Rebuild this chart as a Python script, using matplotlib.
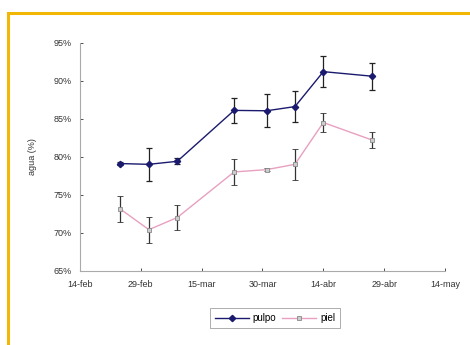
import matplotlib

matplotlib.use("Agg")

import matplotlib.pyplot as plt
import numpy as np
from matplotlib.lines import Line2D
from matplotlib.patches import Rectangle

plt.rcParams["font.family"] = ["Liberation Sans", "DejaVu Sans"]

# sampling dates and water content (%)
fechas = np.array(["2008-02-24", "2008-03-02", "2008-03-09", "2008-03-23",
                   "2008-03-31", "2008-04-07", "2008-04-14", "2008-04-26"],
                  dtype="datetime64[D]")
pulpa = [79.1, 79.0, 79.4, 86.1, 86.05, 86.6, 91.2, 90.6]
pulpa_err = [0.15, 2.2, 0.4, 1.6, 2.2, 2.0, 2.0, 1.8]
piel = [73.1, 70.4, 72.0, 78.0, 78.3, 79.0, 84.5, 82.2]
piel_err = [1.7, 1.7, 1.6, 1.75, 0.2, 2.0, 1.3, 1.1]

tick_fechas = np.array(["2008-02-14", "2008-02-29", "2008-03-15", "2008-03-30",
                        "2008-04-14", "2008-04-29", "2008-05-14"],
                       dtype="datetime64[D]")
tick_labels = ["14-feb", "29-feb", "15-mar", "30-mar", "14-abr", "29-abr", "14-may"]
y_ticks = [65, 70, 75, 80, 85, 90, 95]

c_pulpa = "#1a1a6e"
c_piel = "#e8a0c0"

fig = plt.figure(figsize=(4.7, 3.45), dpi=100)
fig.patch.set_facecolor("white")

# golden frame on top and left
fig.patches.append(Rectangle((8 / 470, -0.1), 1.2, (345 - 13) / 345 + 0.1,
                             transform=fig.transFigure, fill=False,
                             edgecolor="#f2b705", linewidth=2.2, zorder=0))

ax = fig.add_axes([0.170, 0.2154, 0.777, 0.6606])
xd = fechas.astype("O")

ax.errorbar(xd, pulpa, yerr=pulpa_err, color=c_pulpa, marker="D",
            markersize=3.2, linewidth=1.0, ecolor="#222222", elinewidth=0.9,
            capsize=2.5, capthick=0.9, zorder=3)
ax.errorbar(xd, piel, yerr=piel_err, color=c_piel, marker="s",
            markersize=3.2, markerfacecolor="#cccccc", markeredgecolor="#888888",
            markeredgewidth=0.6, linewidth=1.0, ecolor="#333333", elinewidth=0.9,
            capsize=2.5, capthick=0.9, zorder=2)

ax.set_xlim(tick_fechas[0].astype("O"), tick_fechas[-1].astype("O"))
ax.set_ylim(65, 95)
ax.set_xticks(tick_fechas.astype("O"))
ax.set_xticklabels(tick_labels)
ax.set_yticks(y_ticks)
ax.set_yticklabels([f"{v}%" for v in y_ticks])
ax.tick_params(labelsize=6.5, colors="#333333", length=2, width=0.6,
               direction="in", pad=6)
ax.tick_params(axis="x", pad=7)
for s in ["top", "right"]:
    ax.spines[s].set_visible(False)
for s in ["left", "bottom"]:
    ax.spines[s].set_color("#aaaaaa")
    ax.spines[s].set_linewidth(0.8)

ax.set_ylabel("agua (%)", fontsize=6.5, color="#333333", labelpad=12)

handles = [
    Line2D([], [], color=c_pulpa, marker="D", markersize=3.2, linewidth=1.0),
    Line2D([], [], color=c_piel, marker="s", markersize=3.2, linewidth=1.0,
           markerfacecolor="#cccccc", markeredgecolor="#888888",
           markeredgewidth=0.6),
]
leg = fig.legend(handles, ["pulpo", "piel"], loc="center",
                 bbox_to_anchor=(275 / 470, 1 - 318 / 345),
                 ncol=2, fontsize=7, frameon=True, fancybox=False,
                 handlelength=3.5, columnspacing=0.6, handletextpad=0.4,
                 borderpad=0.5)
leg.get_frame().set_edgecolor("#888888")
leg.get_frame().set_linewidth(0.6)

fig.savefig("out.png", dpi=100)
